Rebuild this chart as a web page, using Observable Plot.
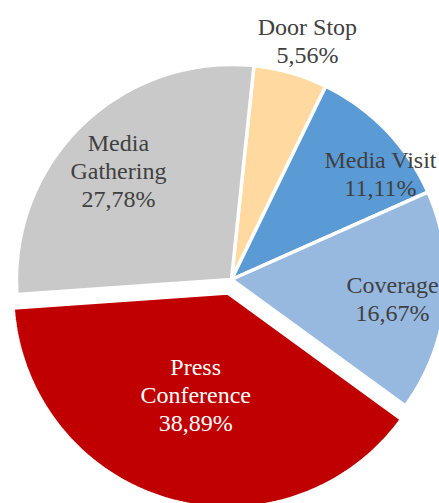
<!DOCTYPE html>
<html><head><meta charset="utf-8">
<script src="https://cdn.jsdelivr.net/npm/d3@7"></script>
<script src="https://cdn.jsdelivr.net/npm/@observablehq/plot@0.6"></script>
<style>html,body{margin:0;padding:0;background:#fff;overflow:hidden}</style>
</head><body><div id="chart"></div>
<script>
// ---- data ----
const categories = ["Door Stop", "Media Visit", "Coverage", "Press Conference", "Media Gathering"];
const labelNames = ["Door Stop", "Media Visit", "Coverage", "Press\nConference", "Media\nGathering"];
const counts = [1, 2, 3, 7, 5];
const colors = ["#FFD9A0", "#5B9BD5", "#97B9E0", "#C00000", "#C9C9C9"];

// ---- layout ----
const W = 439, H = 503, CX = 231, CY = 279, R = 215;
const startDeg = 6;
const explode = [0, 0, 0, 14, 0];
const labelNudge = [[1.8, 1.155], [8.8, 0.848], [1.1, 0.755], [1.3, 0.5], [-3.1, 0.718]];
const labelLift = [3, 1, 2, 2, 4];
const whiteLabel = [false, false, false, true, false];

const total = d3.sum(counts);
const a0 = startDeg * Math.PI / 180;
const arcs = d3.pie().sort(null).startAngle(a0).endAngle(a0 + 2 * Math.PI)(counts);

const pts = [];
const labels = [];
arcs.forEach((a, i) => {
  const mid = (a.startAngle + a.endAngle) / 2;
  const ox = explode[i] * Math.sin(mid), oy = explode[i] * Math.cos(mid);
  const name = categories[i];
  pts.push({name, x: ox, y: oy});
  const n = Math.max(2, Math.ceil((a.endAngle - a.startAngle) * 180 / Math.PI));
  for (let k = 0; k <= n; k++) {
    const t = a.startAngle + (a.endAngle - a.startAngle) * k / n;
    pts.push({name, x: ox + R * Math.sin(t), y: oy + R * Math.cos(t)});
  }
  pts.push({name, x: ox, y: oy});
  const la = mid + labelNudge[i][0] * Math.PI / 180, lr = labelNudge[i][1] * R;
  const pct = (counts[i] / total * 100).toFixed(2).replace(".", ",") + "%";
  labels.push({text: labelNames[i] + "\n" + pct, x: ox + lr * Math.sin(la), y: oy + lr * Math.cos(la) + labelLift[i], white: whiteLabel[i]});
});

const font = {fontSize: 24, fontFamily: "Liberation Serif, 'Times New Roman', serif", lineHeight: 1.17};

const chart = Plot.plot({
  width: W, height: H, margin: 0,
  x: {domain: [-CX, W - CX], axis: null},
  y: {domain: [-(H - CY), CY], axis: null},
  color: {domain: categories, range: colors},
  style: {background: "white"},
  marks: [
    Plot.line(pts, {x: "x", y: "y", z: "name", fill: "name", stroke: "white", strokeWidth: 3.5, strokeLinejoin: "miter", curve: "linear-closed"}),
    Plot.text(labels.filter(d => !d.white), {x: "x", y: "y", text: "text", fill: "#404040", ...font}),
    Plot.text(labels.filter(d => d.white), {x: "x", y: "y", text: "text", fill: "white", ...font})
  ]
});
document.getElementById("chart").appendChild(chart);
</script>
</body></html>
